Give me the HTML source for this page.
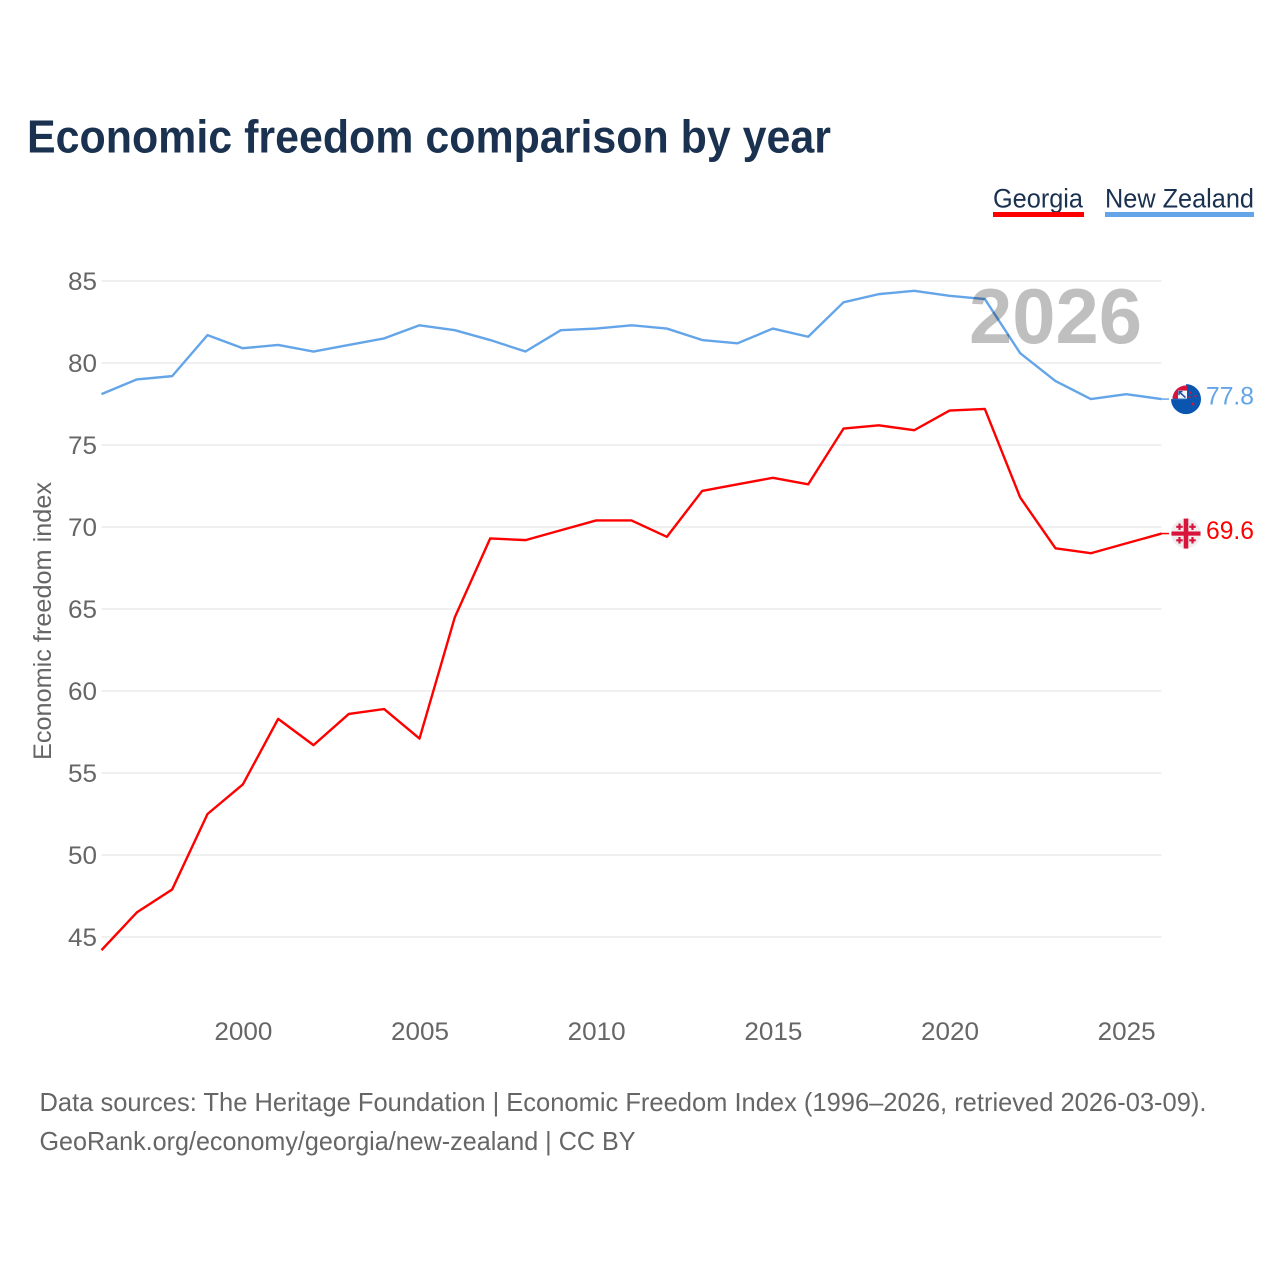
<!DOCTYPE html>
<html lang="en">
<head>
<meta charset="utf-8">
<title>Economic freedom comparison by year</title>
<style>
html,body{margin:0;padding:0;background:#fff}
svg{display:block}
text{font-family:"Liberation Sans",sans-serif}
</style>
</head>
<body>
<svg id="chart" xmlns="http://www.w3.org/2000/svg" width="1280" height="1280" viewBox="0 0 1280 1280">
  <rect width="1280" height="1280" fill="#fff"/>
  <text x="27" y="152.5" font-size="46" font-weight="700" fill="#1a3150" textLength="804" lengthAdjust="spacingAndGlyphs">Economic freedom comparison by year</text>

  <g>
    <g>
      <text x="993" y="207.5" font-size="27" fill="#1a3150" textLength="90" lengthAdjust="spacingAndGlyphs">Georgia</text>
      <rect x="993" y="212" width="91" height="5" fill="#ff0000"/>
    </g>
    <g>
      <text x="1105" y="207.5" font-size="27" fill="#1a3150" textLength="149" lengthAdjust="spacingAndGlyphs">New Zealand</text>
      <rect x="1105" y="212" width="149" height="5" fill="#63a5e8"/>
    </g>
  </g>

  <g id="grid"></g>
  <g id="yticks"></g>
  <g id="xticks"></g>
  <text transform="translate(51,760) rotate(-90)" x="0" y="0" font-size="25" fill="#666" textLength="278" lengthAdjust="spacingAndGlyphs">Economic freedom index</text>

  <g id="series"></g>
  <text id="year-label" x="969" y="343" font-size="78" font-weight="700" fill="#000" fill-opacity="0.25" textLength="173" lengthAdjust="spacingAndGlyphs">2026</text>
  <g id="endmarks"></g>

  <text x="39.5" y="1111" font-size="26" fill="#666" textLength="1167" lengthAdjust="spacingAndGlyphs">Data sources: The Heritage Foundation | Economic Freedom Index (1996–2026, retrieved 2026-03-09).</text>
  <text x="39.5" y="1150" font-size="26" fill="#666" textLength="596" lengthAdjust="spacingAndGlyphs">GeoRank.org/economy/georgia/new-zealand | CC BY</text>
</svg>
<script>
const years = [1996,1997,1998,1999,2000,2001,2002,2003,2004,2005,2006,2007,2008,2009,2010,2011,2012,2013,2014,2015,2016,2017,2018,2019,2020,2021,2022,2023,2024,2025,2026];
const georgia = [44.2,46.5,47.9,52.5,54.3,58.3,56.7,58.6,58.9,57.1,64.5,69.3,69.2,69.8,70.4,70.4,69.4,72.2,72.6,73.0,72.6,76.0,76.2,75.9,77.1,77.2,71.8,68.7,68.4,69.0,69.6];
const newZealand = [78.1,79.0,79.2,81.7,80.9,81.1,80.7,81.1,81.5,82.3,82.0,81.4,80.7,82.0,82.1,82.3,82.1,81.4,81.2,82.1,81.6,83.7,84.2,84.4,84.1,83.9,80.6,78.9,77.8,78.1,77.8];
const yTickValues = [45,50,55,60,65,70,75,80,85];
const xTickValues = [2000,2005,2010,2015,2020,2025];

const NS = 'http://www.w3.org/2000/svg';
const plotLeft = 101.5, plotRight = 1161.5;
function xScale(year){ return plotLeft + (year - 1996) * (plotRight - plotLeft) / 30; }
function yScale(value){ return 937 - (value - 45) * 16.4; }
function make(tag, parent){
  const el = document.createElementNS(NS, tag);
  document.getElementById(parent).appendChild(el);
  return el;
}

yTickValues.forEach(function(v){
  const line = make('line', 'grid');
  
  
  line.setAttribute('x1', plotLeft);
  line.setAttribute('x2', plotRight);
  line.setAttribute('y1', yScale(v));
  line.setAttribute('y2', yScale(v));
  line.setAttribute('stroke', '#ececec');
  line.setAttribute('stroke-width', '1.5');
  const t = make('text', 'yticks');
  
  
  t.setAttribute('x', 68);
  t.setAttribute('y', yScale(v) + 9);
  t.setAttribute('font-size', '25');
  t.setAttribute('fill', '#666');
  t.setAttribute('textLength', '29');
  t.setAttribute('lengthAdjust', 'spacingAndGlyphs');
  t.textContent = v;
});

xTickValues.forEach(function(v){
  const t = make('text', 'xticks');
  
  
  t.setAttribute('x', xScale(v) - 28.5);
  t.setAttribute('y', 1040);
  t.setAttribute('font-size', '25');
  t.setAttribute('fill', '#666');
  t.setAttribute('textLength', '58');
  t.setAttribute('lengthAdjust', 'spacingAndGlyphs');
  t.textContent = v;
});

function drawSeries(values, color, name){
  const p = make('polyline', 'series');
  
  
  p.setAttribute('points', values.map(function(v, i){ return xScale(years[i]) + ',' + yScale(v); }).join(' '));
  p.setAttribute('fill', 'none');
  p.setAttribute('stroke', color);
  p.setAttribute('stroke-width', '2.4');
  p.setAttribute('stroke-linejoin', 'round');
}
drawSeries(newZealand, '#63a5e8', 'new-zealand');
drawSeries(georgia, '#ff0000', 'georgia');

function drawEnd(values, color, name){
  const last = values[values.length - 1];
  const y = yScale(last);
  const lead = make('line', 'endmarks');
  
  
  lead.setAttribute('x1', plotRight);
  lead.setAttribute('x2', 1169);
  lead.setAttribute('y1', y);
  lead.setAttribute('y2', y);
  lead.setAttribute('stroke', color);
  lead.setAttribute('stroke-width', '1.5');
  const label = make('text', 'endmarks');
  
  
  label.setAttribute('x', 1206);
  label.setAttribute('y', y + 5.5);
  label.setAttribute('font-size', '25');
  label.setAttribute('fill', color);
  label.setAttribute('textLength', '48');
  label.setAttribute('lengthAdjust', 'spacingAndGlyphs');
  label.textContent = last.toFixed(1);
  const flag = make('g', 'endmarks');
  
  
  flag.setAttribute('transform', 'translate(1186,' + y + ')');
  return flag;
}

const nzFlag = drawEnd(newZealand, '#63a5e8', 'new-zealand');
nzFlag.innerHTML =
  '<path d="M0,-15 A15,15 0 1 1 -15,0 L0,0 Z" fill="#0a55b0"/>' +
  '<path d="M-15,0 L-13.5,0 A13.5,13.5 0 0 1 0,-13.5 L0,0 Z" fill="#0a55b0"/>' +
  '<path d="M-13.5,-0.5 A13.5,13.5 0 0 1 1,-13.5 L1,-8.5 L-8,-8.5 L-8,-0.5 Z" fill="#d8143c"/>' +
  '<rect x="-8" y="-8.5" width="9" height="8" fill="#f4f6fa"/>' +
  '<path d="M-6.5,-7 L-0.5,-1.5" stroke="#1b4f9c" stroke-width="1.6" fill="none"/>' +
  '<path d="M-7,-4 L-7,-7.5 L-3.5,-7.5" stroke="#1b4f9c" stroke-width="1.4" fill="none"/>' +
  '<circle cx="4.5" cy="-6.5" r="1.1" fill="#d8143c"/>' +
  '<circle cx="9.5" cy="-3" r="1.1" fill="#d8143c"/>' +
  '<circle cx="3.5" cy="-2" r="1.1" fill="#d8143c"/>' +
  '<circle cx="7" cy="5" r="1.3" fill="#d8143c"/>';

const geFlag = drawEnd(georgia, '#ff0000', 'georgia');
geFlag.innerHTML =
  '<circle r="15" fill="#eeeeee"/>' +
  '<rect x="-2.3" y="-15" width="4.6" height="30" fill="#d8143c"/>' +
  '<rect x="-14.5" y="-2.1" width="29" height="4.2" fill="#d8143c"/>' +
  '<path d="M-6.5,-10 v6.5 M-9.75,-6.75 h6.5 M6.5,-10 v6.5 M3.25,-6.75 h6.5 M-6.5,3.5 v6.5 M-9.75,6.75 h6.5 M6.5,3.5 v6.5 M3.25,6.75 h6.5" stroke="#d8143c" stroke-width="2.2" fill="none"/>';
</script>
</body>
</html>
